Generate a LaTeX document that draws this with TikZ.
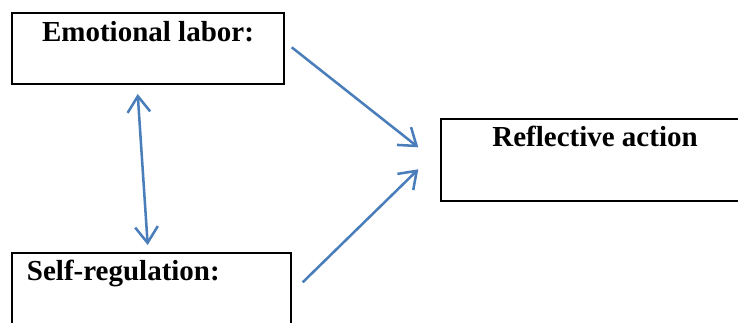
\documentclass[tikz,border=0pt]{standalone}
\usepackage{fontspec}
\setmainfont{Liberation Serif}
\usetikzlibrary{arrows.meta}
\definecolor{arrowblue}{HTML}{4A7EBB}
\begin{document}
\begin{tikzpicture}[x=0.75pt,y=-0.75pt,
  box/.style={draw=black,line width=1.5pt,rectangle,inner sep=0pt},
  lbl/.style={inner sep=0pt,font=\fontsize{21.75pt}{26pt}\selectfont\bfseries},
  conn/.style={draw=arrowblue,line width=1.9pt,-{Straight Barb[length=12pt,width=17pt]}},
  dconn/.style={draw=arrowblue,line width=1.9pt,{Straight Barb[length=12pt,width=17pt]}-{Straight Barb[length=12pt,width=17pt]}}]
\useasboundingbox (0,0) rectangle (738,322);
\clip (0,0) rectangle (738,322);
\fill[white] (0,0) rectangle (738,322);
% boxes
\node[box,minimum width=204pt,minimum height=53.25pt] (emo) at (148,48.5) {};
\node[box,minimum width=231pt,minimum height=61.5pt] (ref) at (594.7,160) {};
\node[box,minimum width=209.25pt,minimum height=75pt] (self) at (151.5,302.7) {};
% labels
\node[lbl,anchor=base] (emot) at (148,41.7) {Emotional labor:};
\node[lbl,anchor=base] (reft) at (595,146.7) {Reflective action};
\node[lbl,anchor=base west] (selft) at (26.7,280) {Self-regulation:};
% connector ends
\coordinate (a1s) at (291.7,47.3);
\coordinate (a1e) at (418.3,147.3);
\coordinate (a2s) at (302.7,282.3);
\coordinate (a2e) at (418.3,169.3);
\coordinate (d1) at (137.7,94);
\coordinate (d2) at (147.7,245);
\draw[conn] (a1s) -- (a1e);
\draw[conn] (a2s) -- (a2e);
\draw[dconn] (d1) -- (d2);
\end{tikzpicture}
\end{document}
